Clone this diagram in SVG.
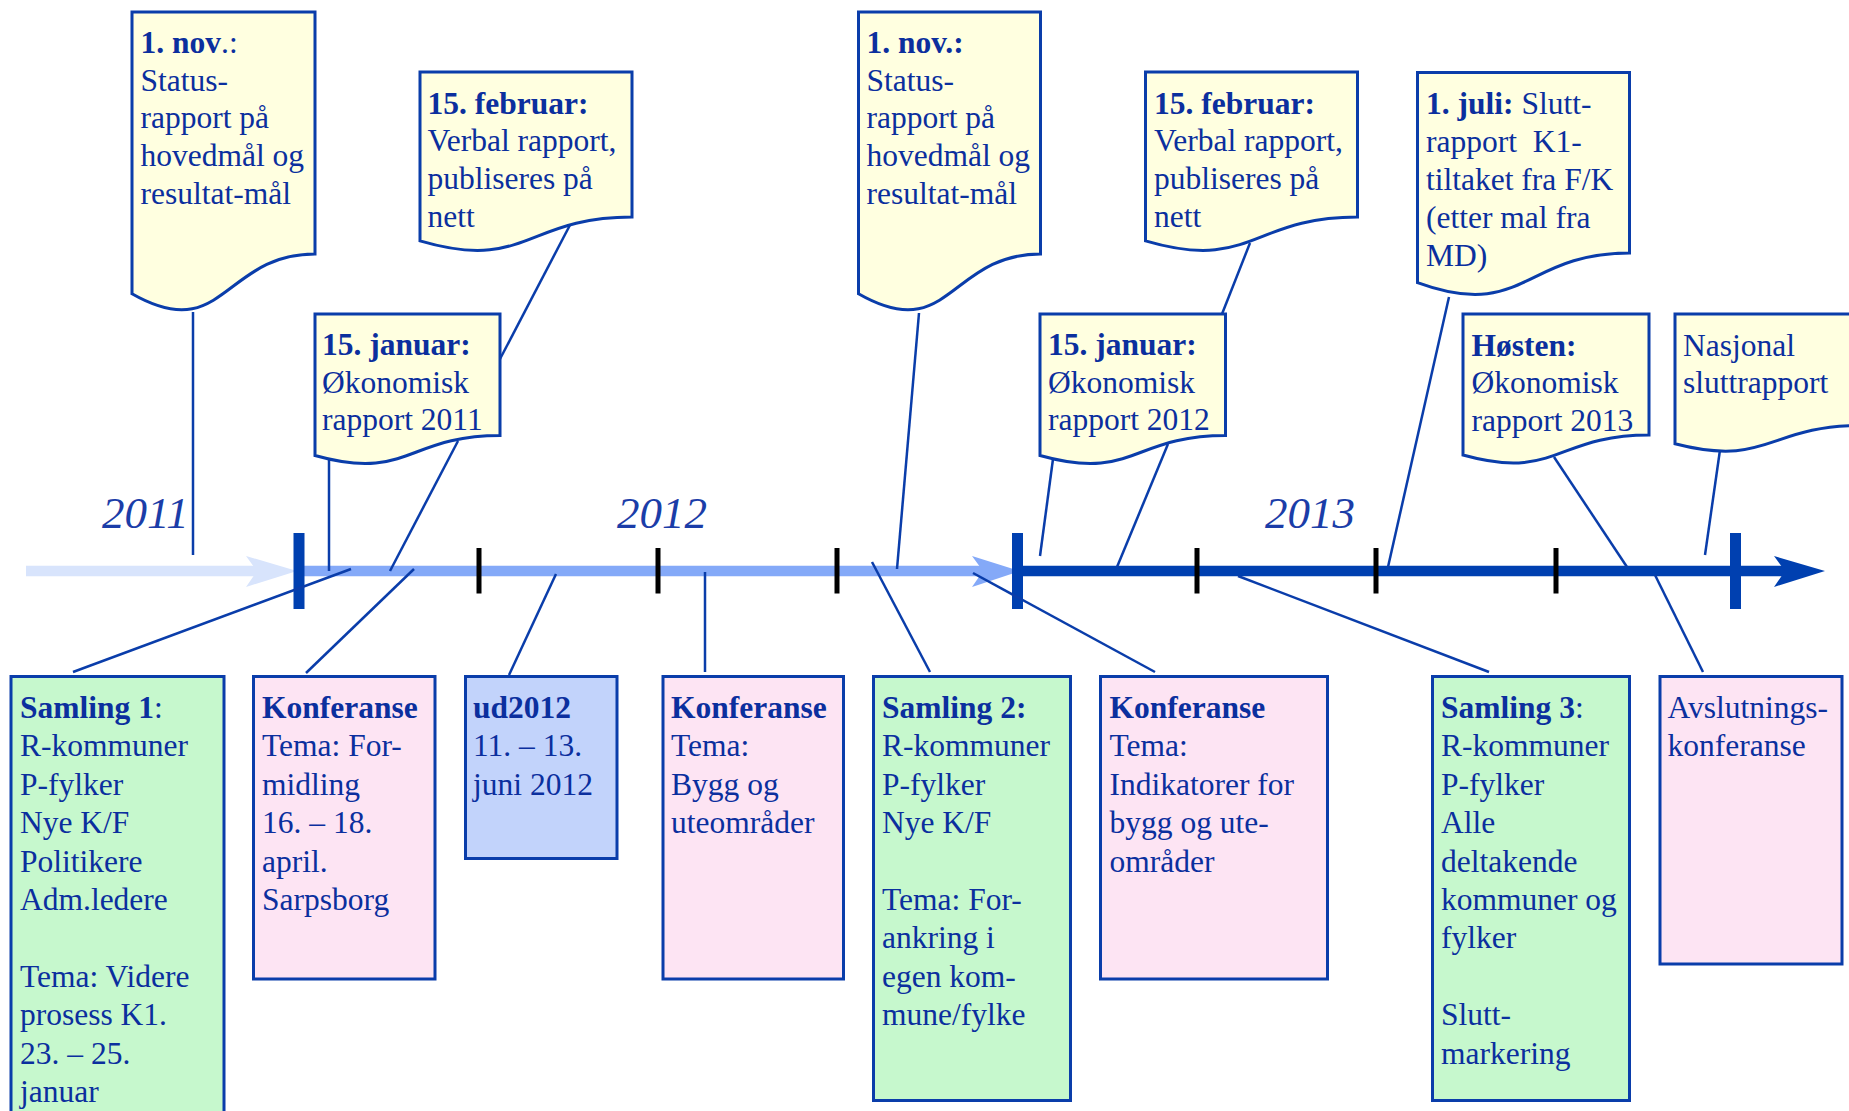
<svg xmlns="http://www.w3.org/2000/svg" width="1849" height="1111" viewBox="0 0 1849 1111">
<style>
.t{font-family:"Liberation Serif","Times New Roman",serif;font-size:31.5px;fill:#0b2f9e}
.b{font-weight:bold}
.yr{font-family:"Liberation Serif","Times New Roman",serif;font-size:45px;font-style:italic;fill:#1b3da8}
.doc{fill:#ffffe0;stroke:#0a3daa;stroke-width:3}
.g{fill:#c6f8cd;stroke:#0a3daa;stroke-width:3}
.p{fill:#fde4f3;stroke:#0a3daa;stroke-width:3}
.u{fill:#c2d3fb;stroke:#0a3daa;stroke-width:3}
.c{stroke:#0a3daa;stroke-width:2.5;fill:none}
</style>
<rect width="1849" height="1111" fill="#ffffff"/>
<g id="axis">
<line x1="26" y1="571" x2="262" y2="571" stroke="#d8e4fc" stroke-width="10.5"/>
<polygon points="297,571 246,556 257,571 246,587" fill="#d8e4fc"/>
<line x1="304" y1="571" x2="985" y2="571" stroke="#84a9f8" stroke-width="10.5"/>
<polygon points="1020,571 972,556 983,571 972,587" fill="#84a9f8"/>
<line x1="1022" y1="571" x2="1795" y2="571" stroke="#0040b0" stroke-width="10.5"/>
<polygon points="1825,571 1774,556 1785,571 1774,587" fill="#0040b0"/>
<g fill="#0040b0">
<rect x="293.5" y="533" width="11" height="76"/>
<rect x="1012" y="533" width="11" height="76"/>
<rect x="1730" y="533" width="11" height="76"/>
</g>
<g fill="#000000">
<rect x="476.5" y="548" width="5" height="45.5"/>
<rect x="655.5" y="548" width="5" height="45.5"/>
<rect x="834.5" y="548" width="5" height="45.5"/>
<rect x="1194.5" y="548" width="5" height="45.5"/>
<rect x="1373.5" y="548" width="5" height="45.5"/>
<rect x="1553.5" y="548" width="5" height="45.5"/>
</g>
<text class="yr" x="102" y="528">2011</text>
<text class="yr" x="617" y="528">2012</text>
<text class="yr" x="1265" y="528">2013</text>
</g>
<g id="connectors">
<line class="c" x1="193" y1="312" x2="193" y2="555"/>
<line class="c" x1="570" y1="225" x2="500" y2="359"/>
<line class="c" x1="329" y1="459" x2="329" y2="571"/>
<line class="c" x1="458" y1="441" x2="390" y2="571"/>
<line class="c" x1="919" y1="313" x2="897" y2="569"/>
<line class="c" x1="1250" y1="243" x2="1222" y2="314"/>
<line class="c" x1="1053" y1="459" x2="1040" y2="556"/>
<line class="c" x1="1168" y1="444" x2="1117" y2="567"/>
<line class="c" x1="1449" y1="297" x2="1388" y2="567"/>
<line class="c" x1="1554" y1="457" x2="1627" y2="567"/>
<line class="c" x1="1720" y1="450" x2="1705" y2="555"/>
<line class="c" x1="73" y1="672" x2="351" y2="569"/>
<line class="c" x1="306" y1="673" x2="414" y2="569"/>
<line class="c" x1="509" y1="675" x2="556" y2="574"/>
<line class="c" x1="705" y1="572" x2="705" y2="672"/>
<line class="c" x1="930" y1="672" x2="872" y2="562"/>
<line class="c" x1="973" y1="573" x2="1155" y2="672"/>
<line class="c" x1="1489" y1="672" x2="1238" y2="576"/>
<line class="c" x1="1703" y1="672" x2="1655" y2="575"/>
</g>
<g id="nov2011">
<path class="doc" d="M132,12 H315 V254 C223.5,254 223.5,346 132,293.8 Z"/>
<text class="t" x="140.5"><tspan y="52.8"><tspan class="b">1. nov</tspan>.:</tspan><tspan x="140.5" y="90.6">Status-</tspan><tspan x="140.5" y="128.4">rapport på</tspan><tspan x="140.5" y="166.2">hovedmål og</tspan><tspan x="140.5" y="204">resultat-mål</tspan></text>
</g>
<g id="feb2011">
<path class="doc" d="M420,72 H632 V217 C526,217 526,272.1 420,240.9 Z"/>
<text class="t" x="427.5"><tspan class="b" y="113.5">15. februar:</tspan><tspan x="427.5" y="151.3">Verbal rapport,</tspan><tspan x="427.5" y="189">publiseres på</tspan><tspan x="427.5" y="226.8">nett</tspan></text>
</g>
<g id="jan2011">
<path class="doc" d="M315,314 H500 V435.5 C407.5,435.5 407.5,481.7 315,455.5 Z"/>
<text class="t" x="322"><tspan class="b" y="355">15. januar:</tspan><tspan x="322" y="392.7">Økonomisk</tspan><tspan x="322" y="430.4">rapport 2011</tspan></text>
</g>
<g id="nov2012">
<path class="doc" d="M858.5,12 H1040.5 V254 C949.5,254 949.5,346 858.5,293.8 Z"/>
<text class="t b" x="866.5"><tspan y="52.8">1. nov.:</tspan></text>
<text class="t" x="866.5"><tspan y="90.6">Status-</tspan><tspan x="866.5" y="128.4">rapport på</tspan><tspan x="866.5" y="166.2">hovedmål og</tspan><tspan x="866.5" y="204">resultat-mål</tspan></text>
</g>
<g id="feb2012">
<path class="doc" d="M1145.5,72 H1357.5 V217 C1251.5,217 1251.5,272.1 1145.5,240.9 Z"/>
<text class="t" x="1154"><tspan class="b" y="113.5">15. februar:</tspan><tspan x="1154" y="151.3">Verbal rapport,</tspan><tspan x="1154" y="189">publiseres på</tspan><tspan x="1154" y="226.8">nett</tspan></text>
</g>
<g id="jan2012">
<path class="doc" d="M1040,314 H1225.5 V435.5 C1132.7,435.5 1132.7,481.7 1040,455.5 Z"/>
<text class="t" x="1048"><tspan class="b" y="355">15. januar:</tspan><tspan x="1048" y="392.7">Økonomisk</tspan><tspan x="1048" y="430.4">rapport 2012</tspan></text>
</g>
<g id="juli2013">
<path class="doc" d="M1417.5,72.5 H1629.5 V253 C1523.5,253 1523.5,321.6 1417.5,282.7 Z"/>
<text class="t" x="1426" xml:space="preserve"><tspan y="114"><tspan class="b">1. juli:</tspan> Slutt-</tspan><tspan x="1426" y="152">rapport  K1-</tspan><tspan x="1426" y="190">tiltaket fra F/K</tspan><tspan x="1426" y="228">(etter mal fra</tspan><tspan x="1426" y="266">MD)</tspan></text>
</g>
<g id="hosten2013">
<path class="doc" d="M1463,314 H1649 V435 C1556,435 1556,481 1463,455 Z"/>
<text class="t" x="1471.5"><tspan class="b" y="355.9">Høsten:</tspan><tspan x="1471.5" y="393.4">Økonomisk</tspan><tspan x="1471.5" y="431">rapport 2013</tspan></text>
</g>
<g id="nasjonal">
<path class="doc" d="M1675,314 H1861 V425.5 C1768,425.5 1768,467.9 1675,443.8 Z"/>
<text class="t" x="1683"><tspan y="355.9">Nasjonal</tspan><tspan x="1683" y="393.4">sluttrapport</tspan></text>
</g>
<g id="samling1">
<rect class="g" x="11" y="676.5" width="213" height="460"/>
<text class="t" x="20"><tspan y="718"><tspan class="b">Samling 1</tspan>:</tspan><tspan x="20" y="756.4">R-kommuner</tspan><tspan x="20" y="794.8">P-fylker</tspan><tspan x="20" y="833.2">Nye K/F</tspan><tspan x="20" y="871.6">Politikere</tspan><tspan x="20" y="910">Adm.ledere</tspan><tspan x="20" y="986.8">Tema: Videre</tspan><tspan x="20" y="1025.2">prosess K1.</tspan><tspan x="20" y="1063.6">23. – 25.</tspan><tspan x="20" y="1102">januar</tspan></text>
</g>
<g id="konferanse1">
<rect class="p" x="253.5" y="676.5" width="181.5" height="302.5"/>
<text class="t" x="262"><tspan class="b" y="718">Konferanse</tspan><tspan x="262" y="756.4">Tema: For-</tspan><tspan x="262" y="794.8">midling</tspan><tspan x="262" y="833.2">16. – 18.</tspan><tspan x="262" y="871.6">april.</tspan><tspan x="262" y="910">Sarpsborg</tspan></text>
</g>
<g id="ud2012">
<rect class="u" x="465.5" y="676.5" width="151.5" height="182"/>
<text class="t" x="473"><tspan class="b" y="718">ud2012</tspan><tspan x="473" y="756.4">11. – 13.</tspan><tspan x="473" y="794.8">juni 2012</tspan></text>
</g>
<g id="konferanse2">
<rect class="p" x="663" y="676.5" width="180.5" height="302.5"/>
<text class="t" x="671"><tspan class="b" y="718">Konferanse</tspan><tspan x="671" y="756.4">Tema:</tspan><tspan x="671" y="794.8">Bygg og</tspan><tspan x="671" y="833.2">uteområder</tspan></text>
</g>
<g id="samling2">
<rect class="g" x="873.5" y="676.5" width="197" height="424"/>
<text class="t" x="882"><tspan class="b" y="718">Samling 2:</tspan><tspan x="882" y="756.4">R-kommuner</tspan><tspan x="882" y="794.8">P-fylker</tspan><tspan x="882" y="833.2">Nye K/F</tspan><tspan x="882" y="910">Tema: For-</tspan><tspan x="882" y="948.4">ankring i</tspan><tspan x="882" y="986.8">egen kom-</tspan><tspan x="882" y="1025.2">mune/fylke</tspan></text>
</g>
<g id="konferanse3">
<rect class="p" x="1100.5" y="676.5" width="227" height="302.5"/>
<text class="t" x="1109.5"><tspan class="b" y="718">Konferanse</tspan><tspan x="1109.5" y="756.4">Tema:</tspan><tspan x="1109.5" y="794.8">Indikatorer for</tspan><tspan x="1109.5" y="833.2">bygg og ute-</tspan><tspan x="1109.5" y="871.6">områder</tspan></text>
</g>
<g id="samling3">
<rect class="g" x="1432.5" y="676.5" width="197" height="424"/>
<text class="t" x="1441"><tspan y="718"><tspan class="b">Samling 3</tspan>:</tspan><tspan x="1441" y="756.4">R-kommuner</tspan><tspan x="1441" y="794.8">P-fylker</tspan><tspan x="1441" y="833.2">Alle</tspan><tspan x="1441" y="871.6">deltakende</tspan><tspan x="1441" y="910">kommuner og</tspan><tspan x="1441" y="948.4">fylker</tspan><tspan x="1441" y="1025.2">Slutt-</tspan><tspan x="1441" y="1063.6">markering</tspan></text>
</g>
<g id="avslutning">
<rect class="p" x="1660" y="676.5" width="182" height="287.5"/>
<text class="t" x="1667.5"><tspan y="718">Avslutnings-</tspan><tspan x="1667.5" y="756.4">konferanse</tspan></text>
</g>
</svg>
